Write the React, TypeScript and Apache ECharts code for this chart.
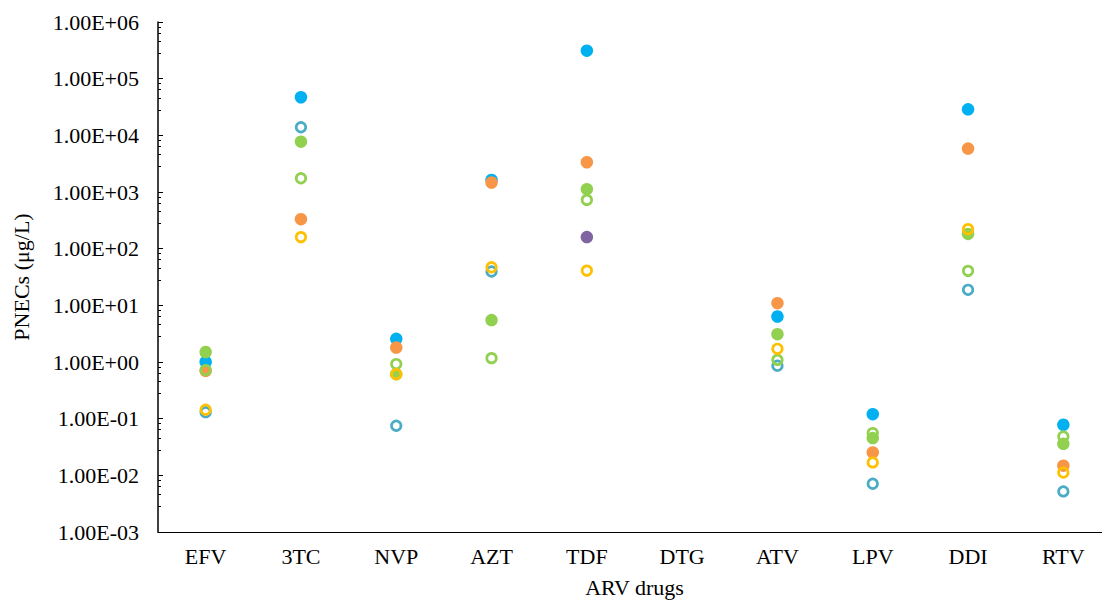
import React, { useEffect, useRef } from "react";
import * as echarts from "echarts";

const categories = ["EFV", "3TC", "NVP", "AZT", "TDF", "DTG", "ATV", "LPV", "DDI", "RTV"];

// Filled markers
const blueFilled = [1.0, 47000, 2.56, 1630, 312000, null, 6.35, 0.12, 28800, 0.078];
const orangeFilled = [0.7, 331, 1.8, 1470, 3350, null, 10.9, 0.0253, 5830, 0.0148];
const greenFilled = [1.5, 7740, 0.61, 5.5, 1120, null, 3.1, 0.0455, 182, 0.036];
const purpleFilled = [null, null, null, null, 160, null, null, null, null, null];
// Hollow markers
const tealHollow = [0.13, 13900, 0.075, 39.5, null, null, 0.86, 0.0071, 18.8, 0.0052];
const greenHollow = [0.72, 1750, 0.92, 1.17, 726, null, 1.09, 0.0557, 40.6, 0.0485];
const yellowHollow = [0.144, 160, 0.61, 47, 41, null, 1.71, 0.0169, 221, 0.0112];

const FONT = "Liberation Serif";

function toPairs(values: (number | null)[]) {
  const out: [string, number][] = [];
  values.forEach((v, i) => {
    if (v !== null) out.push([categories[i], v]);
  });
  return out;
}

function filled(name: string, values: (number | null)[], color: string) {
  return {
    name,
    type: "scatter",
    data: toPairs(values),
    symbol: "circle",
    symbolSize: 12.5,
    itemStyle: { color, opacity: 1 },
  };
}

function hollow(name: string, values: (number | null)[], color: string) {
  return {
    name,
    type: "scatter",
    data: toPairs(values),
    symbol: "circle",
    symbolSize: 9.5,
    itemStyle: { color: "rgba(0,0,0,0)", borderColor: color, borderWidth: 2.7, opacity: 1 },
  };
}

function fmt(v: number) {
  const e = Math.round(Math.log10(v));
  const sign = e < 0 ? "-" : "+";
  const abs = Math.abs(e);
  return "1.00E" + sign + (abs < 10 ? "0" + abs : String(abs));
}

export default function App() {
  const ref = useRef<HTMLDivElement>(null);
  useEffect(() => {
    if (!ref.current) return;
    const chart = echarts.init(ref.current, null, { renderer: "svg" });
    chart.setOption({
      animation: false,
      backgroundColor: "#ffffff",
      grid: { left: 158, right: -9, top: 22, bottom: 68, outerBoundsMode: "none", containLabel: false },
      xAxis: {
        type: "category",
        data: categories,
        boundaryGap: true,
        name: "ARV drugs",
        nameLocation: "middle",
        nameGap: 44,
        nameTextStyle: { fontFamily: FONT, fontSize: 22, color: "#000" },
        axisLine: { show: true, lineStyle: { color: "#000", width: 1 } },
        axisTick: { show: false },
        axisLabel: { fontFamily: FONT, fontSize: 22, color: "#000", margin: 13 },
        splitLine: { show: false },
      },
      yAxis: {
        type: "log",
        logBase: 10,
        min: 0.001,
        max: 1000000,
        name: "PNECs (μg/L)",
        nameLocation: "middle",
        nameGap: 126,
        nameRotate: 90,
        nameTextStyle: { fontFamily: FONT, fontSize: 22, color: "#000" },
        axisLine: { show: true, lineStyle: { color: "#000", width: 1.5 } },
        axisTick: { show: true, inside: true, length: 5, lineStyle: { color: "#000" } },
        minorTick: { show: true, splitNumber: 5, length: 3, lineStyle: { color: "#000" } },
        axisLabel: { fontFamily: FONT, fontSize: 22, color: "#000", margin: 19, formatter: fmt },
        splitLine: { show: false },
      },
      series: [
        filled("Series 1", blueFilled, "#00B0F0"),
        filled("Series 2", orangeFilled, "#F79646"),
        hollow("Series 5", tealHollow, "#4BACC6"),
        hollow("Series 6", greenHollow, "#92D050"),
        filled("Series 3", greenFilled, "#92D050"),
        filled("Series 4", purpleFilled, "#8064A2"),
        hollow("Series 7", yellowHollow, "#FFC000"),
      ],
    });
    return () => chart.dispose();
  }, []);
  return (
    <div
      ref={ref}
      style={{ position: "fixed", left: 0, top: 0, width: 1102, height: 600, background: "#fff" }}
    />
  );
}
